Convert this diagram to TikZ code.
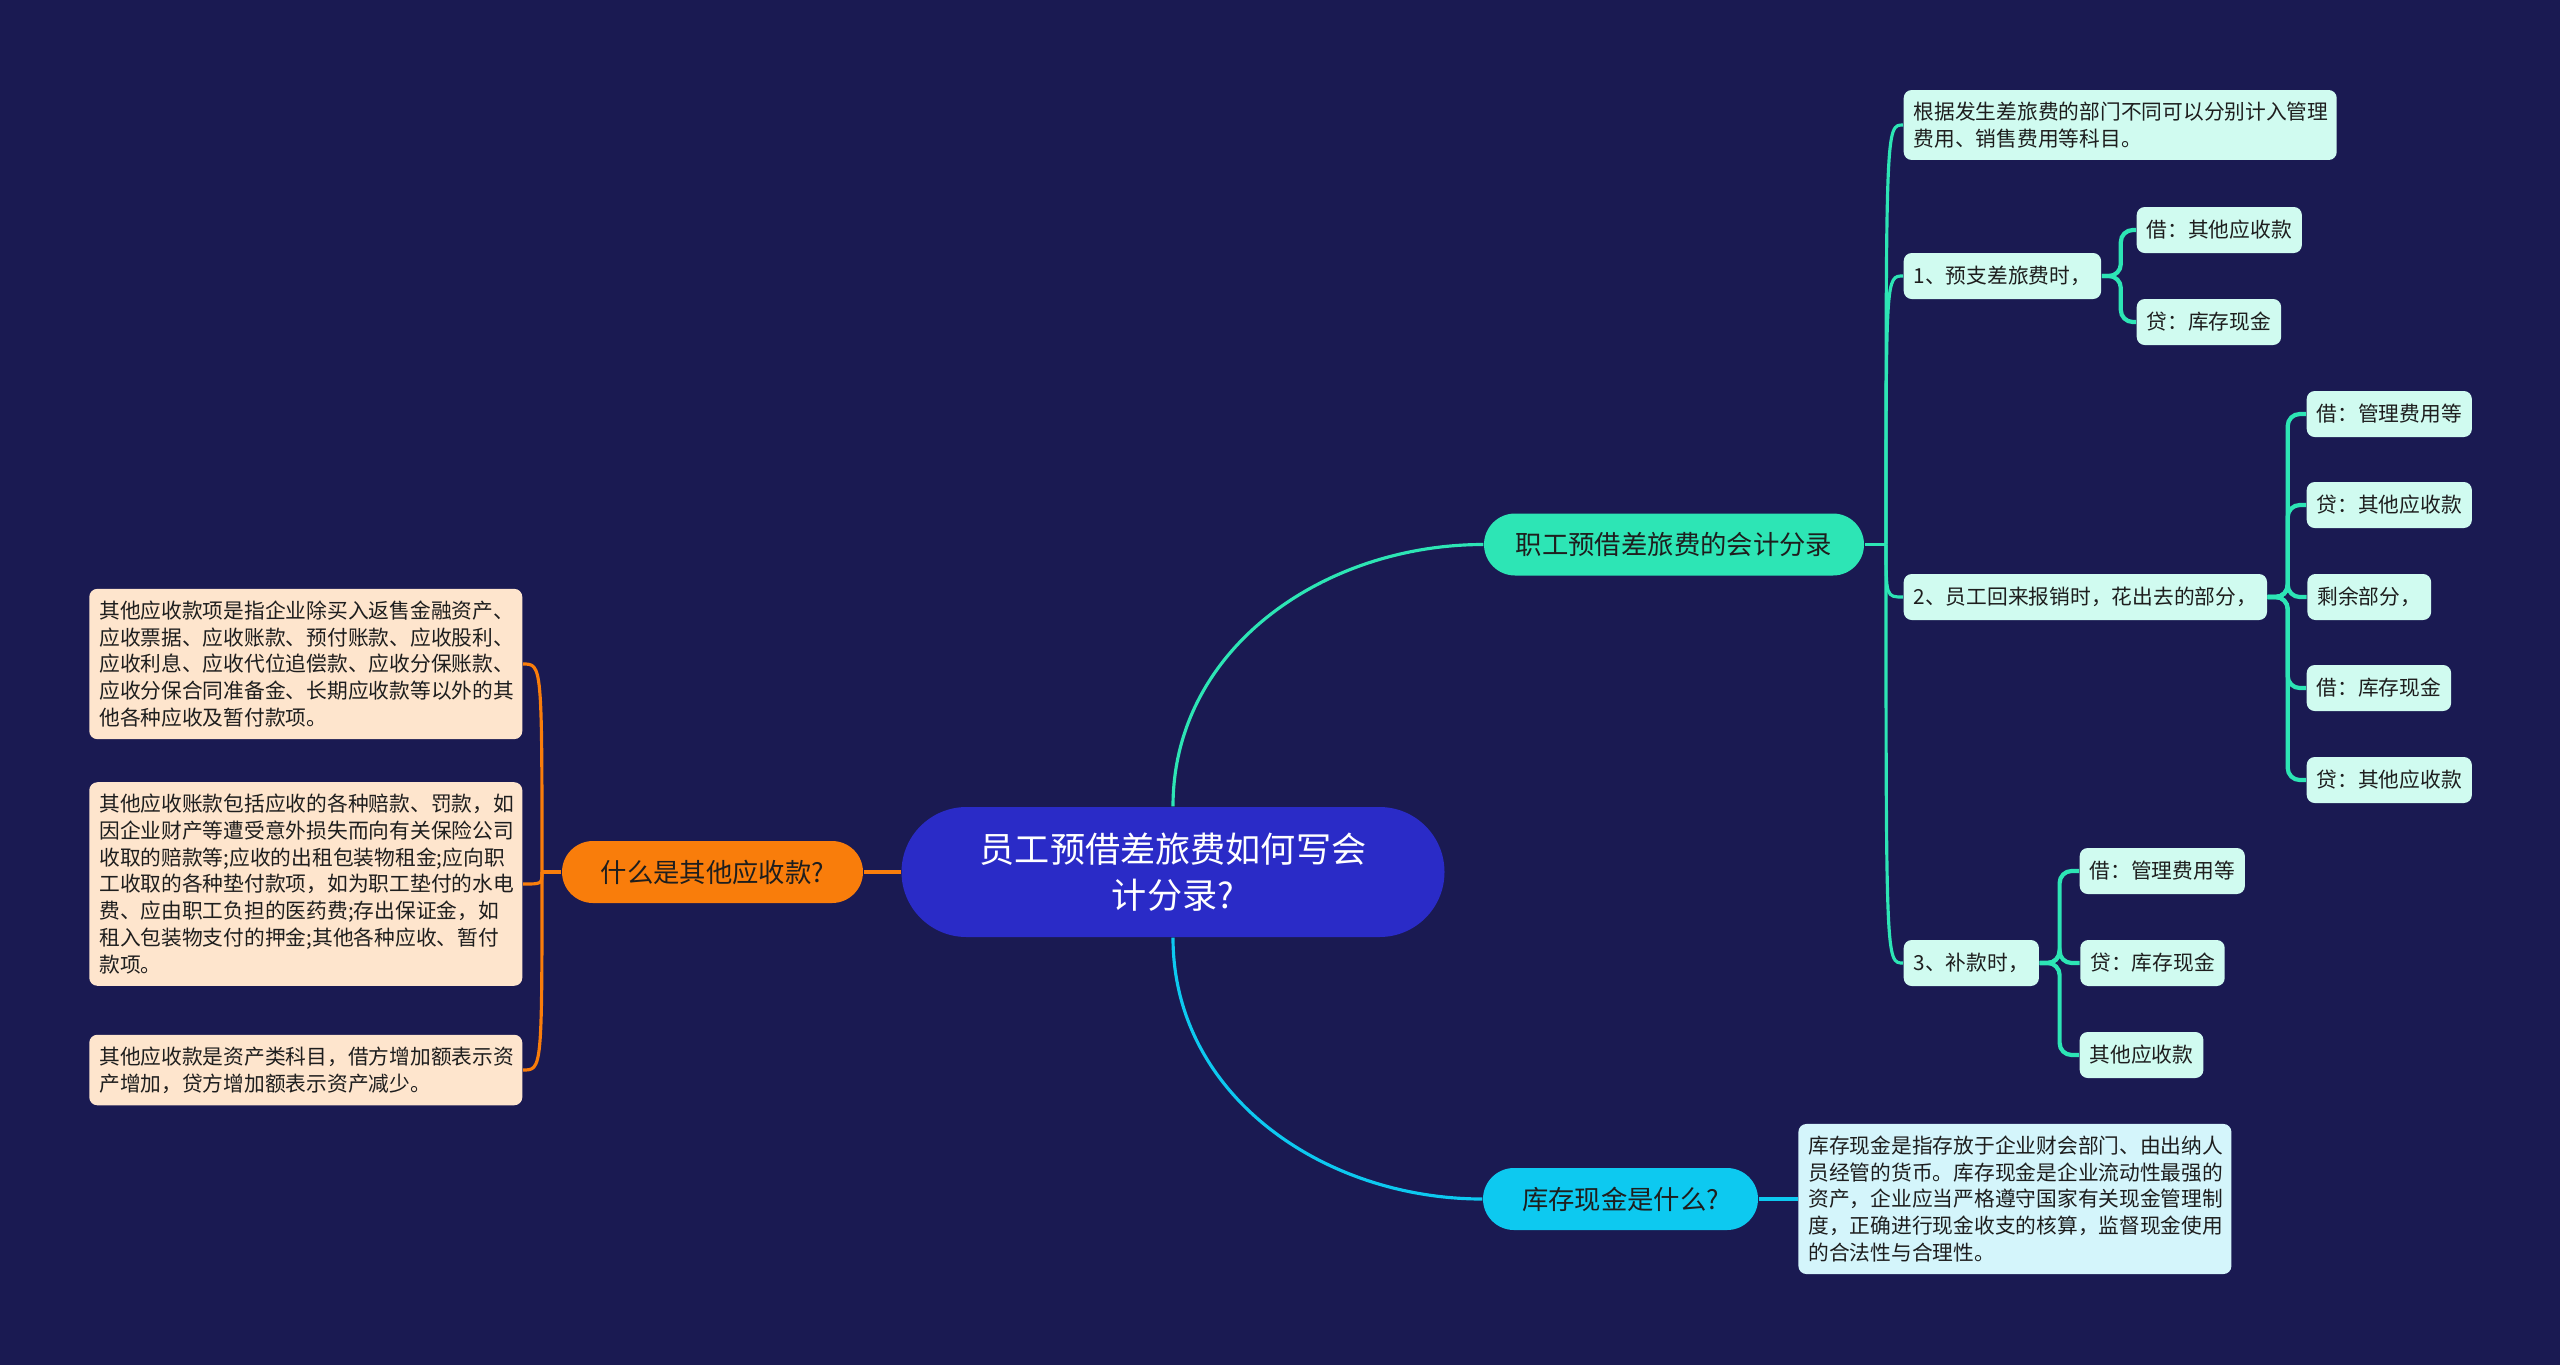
\documentclass[tikz,border=0pt]{standalone}
\usepackage{fontspec}
\setmainfont{Noto Sans CJK SC}
\usepackage{tikz}
\usetikzlibrary{positioning}

\definecolor{sfondo}{HTML}{1A1A52}
\definecolor{bluradice}{HTML}{2A2BC7}
\definecolor{arancio}{HTML}{F97D0B}
\definecolor{verdeacqua}{HTML}{2DE5B5}
\definecolor{ciano}{HTML}{0DC9F0}
\definecolor{menta}{HTML}{D0FBF0}
\definecolor{crema}{HTML}{FEE5CD}
\definecolor{azzurrino}{HTML}{D4F5FB}
\definecolor{testoscuro}{HTML}{1E1E1E}

\begin{document}
\begin{tikzpicture}[x=1cm, y=-1cm, font=\fontsize{5.9}{7.6}\selectfont]

			% Sfondo
			\fill[sfondo] (0,0) rectangle (25.6,13.65);

			\tikzset{
				radice/.style={fill=bluradice, text=white, rounded corners=0.65cm, minimum width=5.43cm, minimum height=1.30cm, align=center, font=\fontsize{10}{13.1}\selectfont},
				ramo/.style={rounded corners=0.31cm, minimum height=0.62cm, text=testoscuro, font=\fontsize{7.5}{9}\selectfont},
				foglia/.style={fill=menta, rounded corners=0.08cm, inner xsep=0.1cm, inner ysep=0.12cm, minimum height=0.46cm, text=testoscuro},
				nota/.style={foglia, align=left, text width=4.13cm},
				lineaverde/.style={draw=verdeacqua, line width=0.9pt},
				lineaarancio/.style={draw=arancio, line width=0.9pt},
				lineaciano/.style={draw=ciano, line width=0.9pt}
			}

			% --- NODO CENTRALE E RAMI ---
			\node[radice] (root) at (11.73, 8.72) {员工预借差旅费如何写会\\计分录?};

			\node[ramo, fill=arancio, minimum width=3.01cm] (qa) at (7.125, 8.72) {什么是其他应收款?};
			\node[ramo, fill=verdeacqua, minimum width=3.80cm] (jz) at (16.74, 5.445) {职工预借差旅费的会计分录};
			\node[ramo, fill=ciano, minimum width=2.75cm] (kc) at (16.205, 11.99) {库存现金是什么?};

			\draw[lineaarancio, line width=1.1pt] (root.west) -- (qa.east);
			\draw[lineaverde] (root.north) to[out=90, in=180] (jz.west);
			\draw[lineaciano] (root.south) to[out=-90, in=180] (kc.west);

			% --- FOGLIE A SINISTRA ---
			\node[nota, fill=crema, anchor=east] (l1) at (5.23, 6.64) {其他应收款项是指企业除买入返售金融资产、\\应收票据、应收账款、预付账款、应收股利、\\应收利息、应收代位追偿款、应收分保账款、\\应收分保合同准备金、长期应收款等以外的其\\他各种应收及暂付款项。};
			\node[nota, fill=crema, anchor=east] (l2) at (5.23, 8.84) {其他应收账款包括应收的各种赔款、罚款，如\\因企业财产等遭受意外损失而向有关保险公司\\收取的赔款等;应收的出租包装物租金;应向职\\工收取的各种垫付款项，如为职工垫付的水电\\费、应由职工负担的医药费;存出保证金，如\\租入包装物支付的押金;其他各种应收、暂付\\款项。};
			\node[nota, fill=crema, anchor=east] (l3) at (5.23, 10.70) {其他应收款是资产类科目，借方增加额表示资\\产增加，贷方增加额表示资产减少。};

			\coordinate (qt) at (5.42, 8.72);
			\draw[lineaarancio] (qa.west) -- (qt);
			\foreach \n in {l1, l2, l3}
				\draw[lineaarancio] (qt) .. controls (qt |- \n.east) .. (\n.east);

			% --- FOGLIE A DESTRA ---
			\node[nota, anchor=west] (r1) at (19.03, 1.25) {根据发生差旅费的部门不同可以分别计入管理\\费用、销售费用等科目。};
			\node[foglia, anchor=west] (r2) at (19.03, 2.76) {1、预支差旅费时，};
			\node[foglia, anchor=west] (r3) at (19.03, 5.97) {2、员工回来报销时，花出去的部分，};
			\node[foglia, anchor=west] (r4) at (19.03, 9.63) {3、补款时，};

			\coordinate (jt) at (18.86, 5.445);
			\draw[lineaverde] (jz.east) -- (jt);
			\foreach \n in {r1, r2, r3, r4}
				\draw[lineaverde] (jt) .. controls (jt |- \n.west) .. (\n.west);

			\node[foglia, anchor=west] (r2a) at (21.36, 2.30) {借：其他应收款};
			\node[foglia, anchor=west] (r2b) at (21.36, 3.22) {贷：库存现金};

			\node[foglia, anchor=west] (r3a) at (23.06, 4.14) {借：管理费用等};
			\node[foglia, anchor=west] (r3b) at (23.06, 5.05) {贷：其他应收款};
			\node[foglia, right=0.39cm of r3] (r3c) {剩余部分，};
			\node[foglia, anchor=west] (r3d) at (23.06, 6.88) {借：库存现金};
			\node[foglia, anchor=west] (r3e) at (23.06, 7.80) {贷：其他应收款};

			\node[foglia, anchor=west] (r4a) at (20.79, 8.71) {借：管理费用等};
			\node[foglia, right=0.40cm of r4] (r4b) {贷：库存现金};
			\node[foglia, anchor=west] (r4c) at (20.79, 10.55) {其他应收款};

			\foreach \n in {r2a, r2b}
				\draw[lineaverde, line width=1.2pt, rounded corners=0.12cm] (r2.east) -- ++(0.19,0) |- (\n.west);
			\foreach \n in {r3a, r3b, r3c, r3d, r3e}
				\draw[lineaverde, line width=1.2pt, rounded corners=0.12cm] (r3.east) -- ++(0.20,0) |- (\n.west);
			\foreach \n in {r4a, r4b, r4c}
				\draw[lineaverde, line width=1.2pt, rounded corners=0.12cm] (r4.east) -- ++(0.20,0) |- (\n.west);

			% --- DESCRIZIONE IN BASSO ---
			\node[nota, fill=azzurrino, right=0.39cm of kc] (kcdesc) {库存现金是指存放于企业财会部门、由出纳人\\员经管的货币。库存现金是企业流动性最强的\\资产，企业应当严格遵守国家有关现金管理制\\度，正确进行现金收支的核算，监督现金使用\\的合法性与合理性。};
			\draw[lineaciano] (kc.east) -- (kcdesc.west);

		\end{tikzpicture}
\end{document}
